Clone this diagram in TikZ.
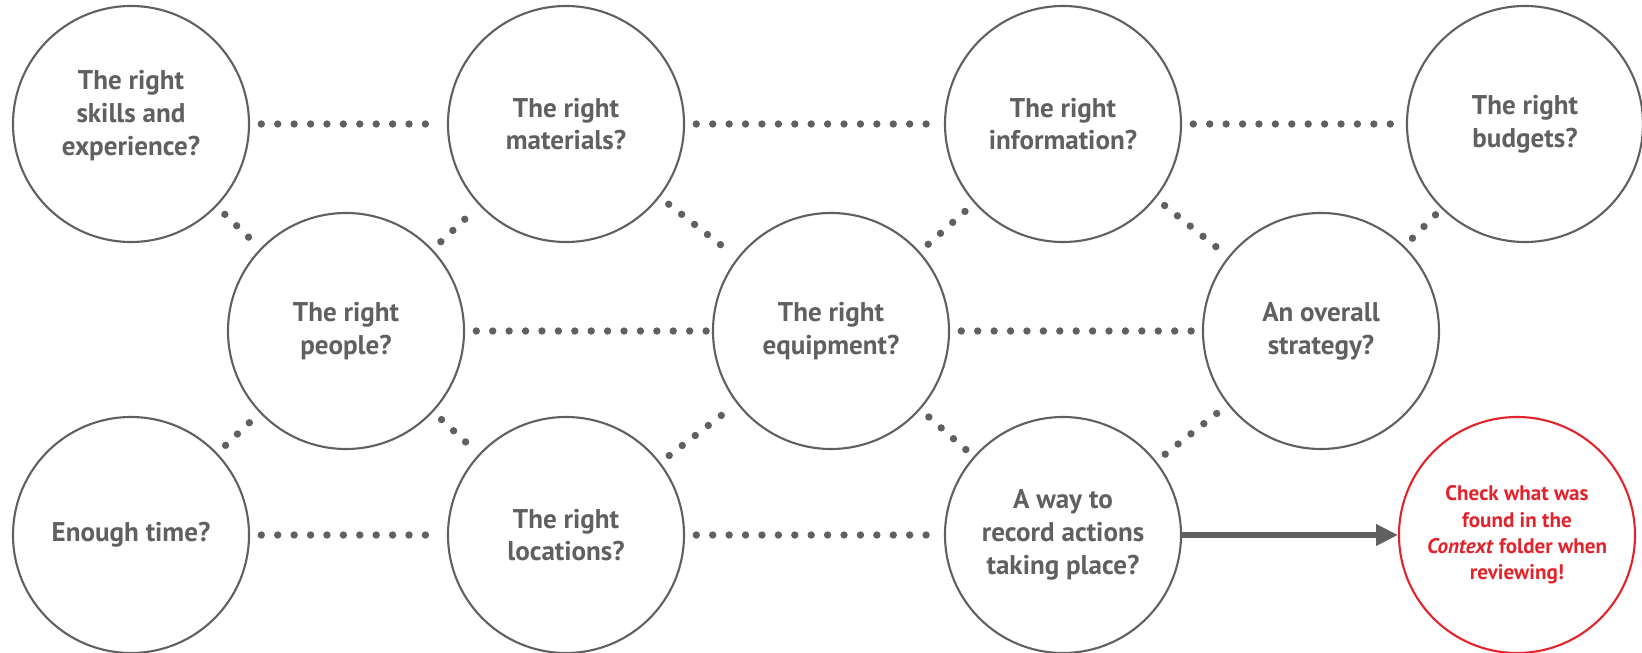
\documentclass[tikz,border=0pt]{standalone}
\usepackage{fontspec}
\setmainfont{PT Sans}
\usetikzlibrary{arrows.meta}
\definecolor{grigio}{HTML}{606060}
\definecolor{rosso}{HTML}{E3232B}

\begin{document}
\begin{tikzpicture}[
    cerchio/.style={circle, draw=grigio, line width=0.6pt, minimum size=2.36cm, inner sep=0pt, align=center, text=grigio, font=\bfseries\fontsize{7.7}{9.3}\selectfont},
    avviso/.style={cerchio, draw=rosso, text=rosso, font=\bfseries\fontsize{6}{7.5}\selectfont},
    puntini/.style={grigio, line width=2.1pt, line cap=round, dash pattern=on 0pt off 4.67pt, shorten <=3.2pt, shorten >=1.5pt},
    freccia/.style={grigio, line width=1.5pt, -{Triangle[length=6.2pt, width=5.8pt]}}
]
    \useasboundingbox (0, 0) rectangle (16.42, 6.52);
    %cerchi
    \node[cerchio] (skills) at (1.31, 5.28) {The right\\skills and\\experience?\\[-3pt]\mbox{}};
    \node[cerchio] (materials) at (5.66, 5.28) {The right\\materials?};
    \node[cerchio] (information) at (10.63, 5.28) {The right\\information?};
    \node[cerchio] (budgets) at (15.25, 5.28) {The right\\budgets?};
    \node[cerchio] (people) at (3.46, 3.21) {The right\\people?};
    \node[cerchio] (equipment) at (8.31, 3.21) {The right\\equipment?};
    \node[cerchio] (strategy) at (13.21, 3.21) {An overall\\strategy?};
    \node[cerchio] (time) at (1.31, 1.17) {Enough time?};
    \node[cerchio] (locations) at (5.66, 1.17) {The right\\locations?};
    \node[cerchio] (record) at (10.63, 1.17) {A way to\\record actions\\taking place?};
    \node[avviso] (check) at (15.17, 1.17) {Check what was\\found in the\\\textit{Context} folder when\\reviewing!};
    %collegamenti orizzontali
    \draw[puntini] (skills) -- (materials);
    \draw[puntini] (materials) -- (information);
    \draw[puntini] (information) -- (budgets);
    \draw[puntini] (people) -- (equipment);
    \draw[puntini] (equipment) -- (strategy);
    \draw[puntini] (time) -- (locations);
    \draw[puntini] (locations) -- (record);
    %collegamenti diagonali
    \draw[puntini] (skills) -- (people);
    \draw[puntini] (people) -- (materials);
    \draw[puntini] (materials) -- (equipment);
    \draw[puntini] (equipment) -- (information);
    \draw[puntini] (information) -- (strategy);
    \draw[puntini] (strategy) -- (budgets);
    \draw[puntini] (time) -- (people);
    \draw[puntini] (people) -- (locations);
    \draw[puntini] (locations) -- (equipment);
    \draw[puntini] (equipment) -- (record);
    \draw[puntini] (record) -- (strategy);
    %freccia
    \draw[freccia] (record) -- (check);
\end{tikzpicture}
\end{document}
